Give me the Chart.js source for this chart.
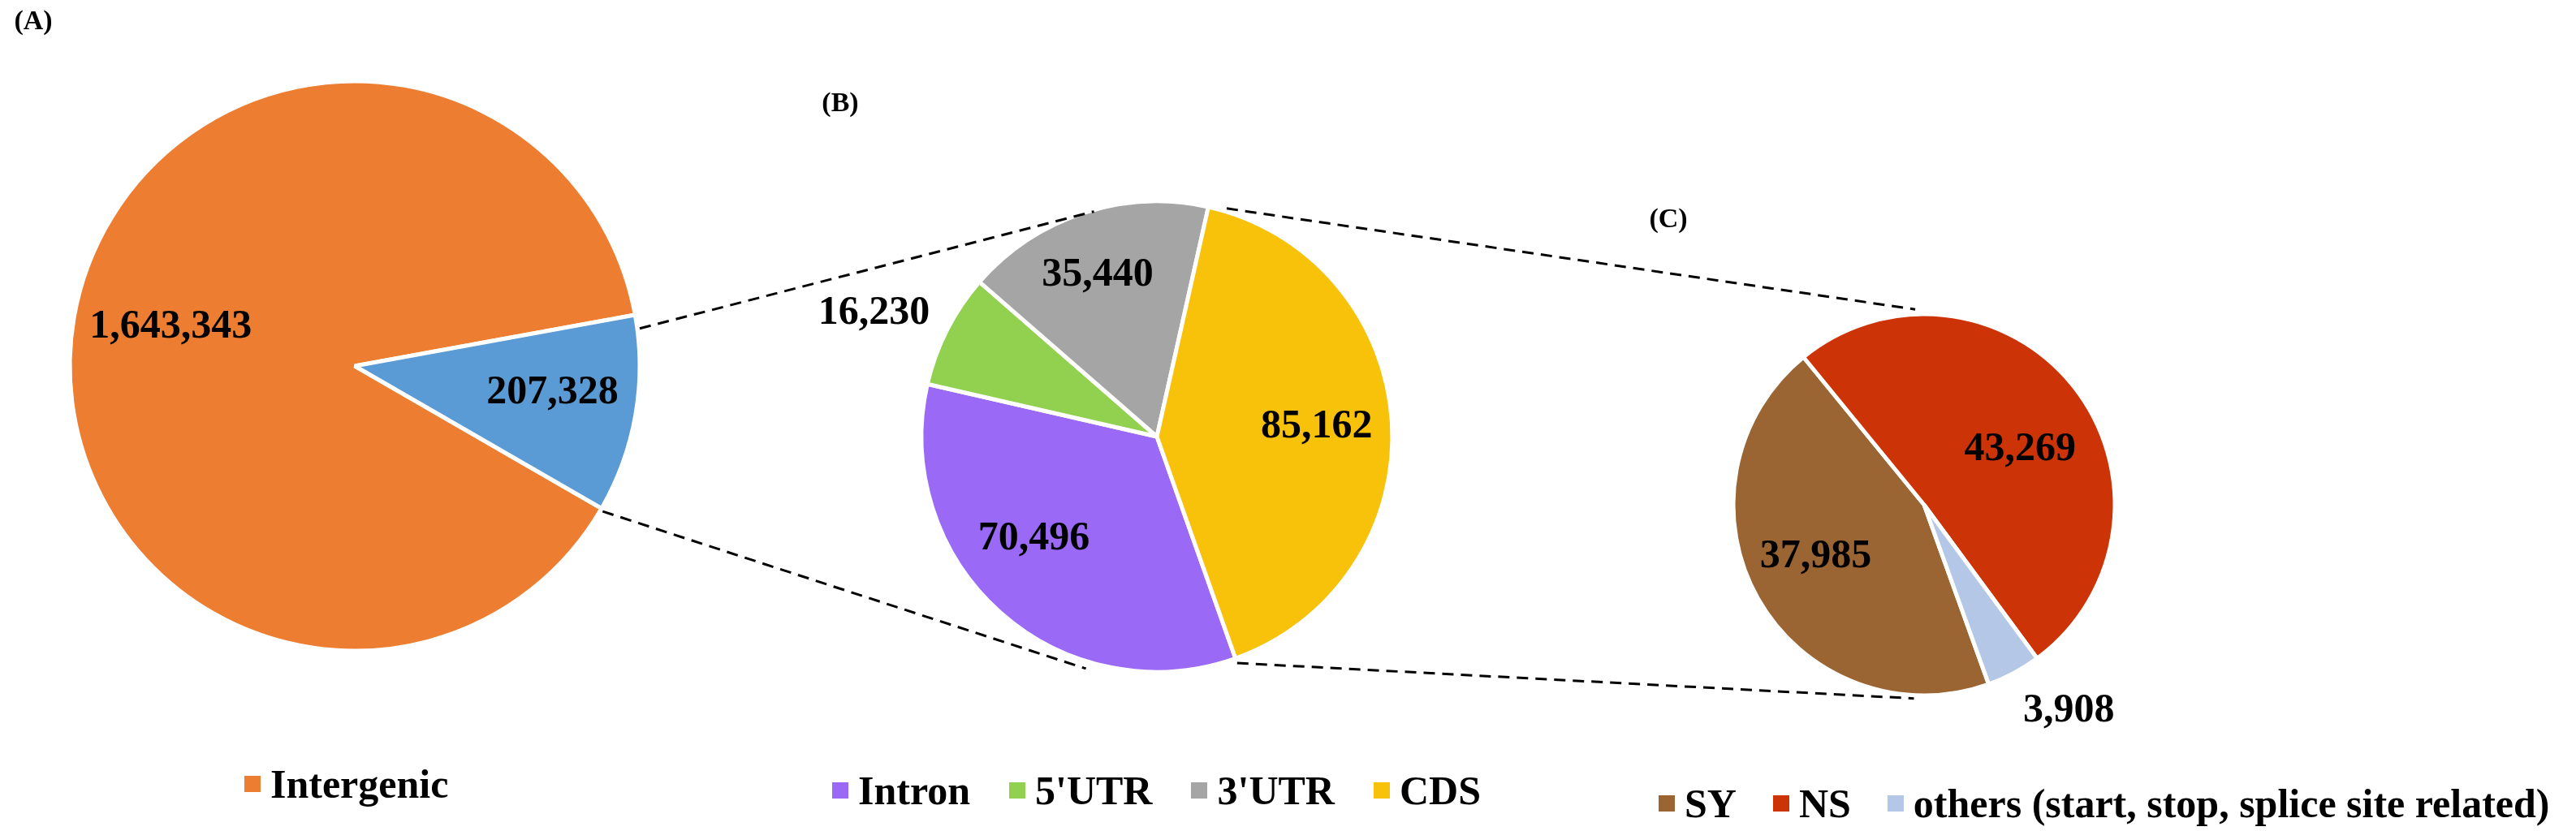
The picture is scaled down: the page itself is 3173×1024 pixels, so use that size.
<!DOCTYPE html>
<html>
<head>
<meta charset="utf-8">
<script src="https://cdn.jsdelivr.net/npm/chart.js@4.4.0/dist/chart.umd.min.js"></script>
<style>
html, body { margin: 0; padding: 0; background: #fff; }
#page { position: relative; width: 3173px; height: 1024px; overflow: hidden; font-family: "Liberation Serif", "Times New Roman", serif; }
.panel { position: absolute; }
#overlay { position: absolute; left: 0; top: 0; }
.legend { position: absolute; display: flex; align-items: center; font-weight: bold; font-size: 50px; line-height: 1; white-space: nowrap; color: #000; }
.legend .item { display: flex; align-items: center; }
.legend .box { width: 20px; height: 20px; margin-right: 12px; }
</style>
</head>
<body>
<div id="page">
  <canvas class="panel" id="chartA" width="874" height="874" style="left:0px;top:14px"></canvas>
  <canvas class="panel" id="chartB" width="860" height="860" style="left:995px;top:108px"></canvas>
  <canvas class="panel" id="chartC" width="620" height="620" style="left:2060px;top:312px"></canvas>
  <canvas id="overlay" width="3173" height="1024"></canvas>
  <div class="legend" id="legendA" style="left:301px;top:941px"></div>
  <div class="legend" id="legendB" style="left:1025px;top:949px"></div>
  <div class="legend" id="legendC" style="left:2043px;top:965px"></div>
</div>
<script>
// (A) genome-wide
const regionLabels = ['Intergenic', 'Genic'];
const regionCounts = [1643343, 207328];
// (B) genic
const genicLabels = ['Intron', "5'UTR", "3'UTR", 'CDS'];
const genicCounts = [70496, 16230, 35440, 85162];
// (C) CDS
const cdsLabels = ['SY', 'NS', 'others (start, stop, splice site related)'];
const cdsCounts = [37985, 43269, 3908];

const FONT = '"Liberation Serif", "Times New Roman", serif';

// value labels, placed along each slice's mid angle
const sliceLabels = {
    id: 'sliceLabels',
    afterDatasetsDraw(chart, args, opts) {
        const ctx = chart.ctx;
        const values = chart.data.datasets[0].data;
        ctx.save();
        ctx.font = 'bold 50px ' + FONT;
        ctx.fillStyle = '#000';
        ctx.textAlign = 'center';
        ctx.textBaseline = 'middle';
        chart.getDatasetMeta(0).data.forEach((arc, i) => {
            const p = arc.getProps(['x', 'y', 'startAngle', 'endAngle', 'outerRadius'], true);
            const a = (p.startAngle + p.endAngle) / 2 + opts.shift[i] * Math.PI / 180;
            const d = p.outerRadius * opts.dist[i];
            ctx.fillText(values[i].toLocaleString('en-US'), p.x + Math.cos(a) * d, p.y + Math.sin(a) * d);
        });
        ctx.restore();
    }
};

function makePie(id, labels, values, colors, rotation, radius, labelPos) {
    return new Chart(document.getElementById(id), {
        type: 'pie',
        data: {
            labels: labels,
            datasets: [{
                data: values,
                backgroundColor: colors,
                borderColor: '#ffffff',
                borderWidth: 5,
                radius: radius,
                hoverOffset: 0
            }]
        },
        options: {
            responsive: false,
            animation: false,
            events: [],
            rotation: rotation,
            plugins: {
                legend: { display: false },
                tooltip: { enabled: false },
                sliceLabels: labelPos
            }
        },
        plugins: [sliceLabels]
    });
}

const chartA = makePie('chartA', regionLabels, regionCounts, ['#ED7D31', '#5B9BD5'], 120, 351,
    { dist: [0.66, 0.70], shift: [2, -2] });
const chartB = makePie('chartB', genicLabels, genicCounts, ['#9A69F6', '#92D050', '#A5A5A5', '#F8C10A'], 160.5, 290,
    { dist: [0.68, 1.31, 0.73, 0.68], shift: [8.5, -3.5, -2, 0] });
const chartC = makePie('chartC', cdsLabels, cdsCounts, ['#9A6433', '#CC3306', '#B4C7E7'], 160.2, 235,
    { dist: [0.63, 0.58, 1.32], shift: [4, 8, -7] });

// HTML legends from the charts' own legend items
function buildLegend(chart, elId, skip, gap) {
    const el = document.getElementById(elId);
    const items = chart.options.plugins.legend.labels.generateLabels(chart)
        .filter(it => !skip.includes(it.index));
    items.forEach((it, n) => {
        const item = document.createElement('div');
        item.className = 'item';
        if (n > 0) item.style.marginLeft = gap + 'px';
        const box = document.createElement('span');
        box.className = 'box';
        box.style.background = it.fillStyle;
        const txt = document.createElement('span');
        txt.textContent = it.text;
        item.appendChild(box);
        item.appendChild(txt);
        el.appendChild(item);
    });
}
buildLegend(chartA, 'legendA', [1], 48);
buildLegend(chartB, 'legendB', [], 48);
buildLegend(chartC, 'legendC', [], 45);

// dashed connectors and panel tags
const charts = { A: chartA, B: chartB, C: chartC };
const links = [
    ['A', -7.5, 5, 'B', -105.6, 0],
    ['A', 30.4, 5, 'B', 107, 11],
    ['B', -73, 6, 'C', -92.6, 8],
    ['B', 70.5, 8, 'C', 93, 6]
];

function pieGeom(ch) {
    const arc = ch.getDatasetMeta(0).data[0];
    const c = ch.canvas;
    return { x: c.offsetLeft + arc.x, y: c.offsetTop + arc.y, r: arc.outerRadius - 2 };
}
function rimPoint(g, deg, gap) {
    const a = deg * Math.PI / 180;
    return [g.x + Math.cos(a) * (g.r + gap), g.y + Math.sin(a) * (g.r + gap)];
}

const ov = document.getElementById('overlay').getContext('2d');
ov.strokeStyle = '#000';
ov.lineWidth = 3;
ov.setLineDash([14, 9]);
links.forEach(l => {
    const p1 = rimPoint(pieGeom(charts[l[0]]), l[1], l[2]);
    const p2 = rimPoint(pieGeom(charts[l[3]]), l[4], l[5]);
    ov.beginPath();
    ov.moveTo(p1[0], p1[1]);
    ov.lineTo(p2[0], p2[1]);
    ov.stroke();
});
ov.setLineDash([]);
ov.font = 'bold 34px ' + FONT;
ov.fillStyle = '#000';
ov.textAlign = 'center';
ov.textBaseline = 'middle';
ov.fillText('(A)', 41, 27);
ov.fillText('(B)', 1035, 128);
ov.fillText('(C)', 2055, 271);
</script>
</body>
</html>
